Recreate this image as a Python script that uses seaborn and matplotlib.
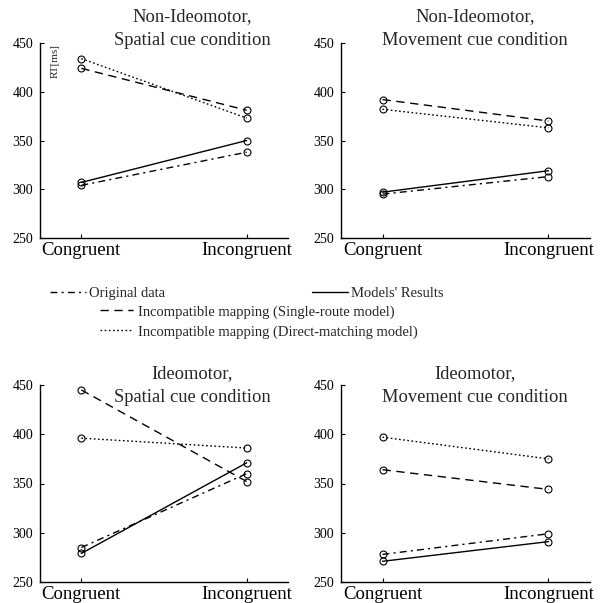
import numpy as np
import pandas as pd
import seaborn as sns
import matplotlib
matplotlib.use("Agg")
import matplotlib.pyplot as plt
from matplotlib.lines import Line2D

# ---------------- data ----------------
categories = ["Congruent", "Incongruent"]
panel_titles = [
    "Non-Ideomotor,\nSpatial cue condition",
    "Non-Ideomotor,\nMovement cue condition",
    "Ideomotor,\nSpatial cue condition",
    "Ideomotor,\nMovement cue condition",
]
original_data = [[304, 338], [295, 313], [285, 360], [278, 299]]
models_results = [[307, 350], [297, 319], [279, 371], [271, 291]]
single_route = [[424, 381], [392, 370], [445, 352], [364, 344]]
direct_matching = [[434, 373], [382, 363], [396, 386], [397, 375]]

series_names = [
    "Original data",
    "Models' Results",
    "Incompatible mapping (Single-route model)",
    "Incompatible mapping (Direct-matching model)",
]
series_values = [original_data, models_results, single_route, direct_matching]
y_ticks = [250, 300, 350, 400, 450]
y_label = "RT[ms]"

rows = []
for s_name, s_vals in zip(series_names, series_values):
    for p, vals in enumerate(s_vals):
        for c, v in zip(categories, vals):
            rows.append({"panel": p, "condition": c, "series": s_name, "RT": v})
df = pd.DataFrame(rows)

# ---------------- style ----------------
sns.set_style("ticks")
plt.rcParams["font.family"] = ["Liberation Serif", "DejaVu Serif"]

dash_map = {
    series_names[0]: (5, 3, 1.5, 3),
    series_names[1]: "",
    series_names[2]: (6, 4),
    series_names[3]: (1.2, 1.8),
}
marker_map = {n: "o" for n in series_names}

W, H = 606, 603
fig = plt.figure(figsize=(W / 100, H / 100), dpi=100)

def px_axes(l, r, t, b):
    return [l / W, 1 - b / H, (r - l) / W, (b - t) / H]

axes_rects = [
    px_axes(40, 288, 43, 238),
    px_axes(341, 590, 43, 238),
    px_axes(40, 288, 385, 582),
    px_axes(341, 590, 385, 582),
]
title_x = [0.613, 0.538, 0.613, 0.538]
title_y = [0.99, 0.99, 0.914, 0.914]

for p in range(4):
    ax = fig.add_axes(axes_rects[p])
    sub = df[df["panel"] == p]
    sns.lineplot(
        data=sub, x="condition", y="RT", style="series",
        style_order=series_names, dashes=dash_map, markers=marker_map,
        color="black", linewidth=1.0, markersize=5,
        markerfacecolor="none", markeredgecolor="black", markeredgewidth=0.8,
        legend=False, ax=ax,
    )
    ax.set_xlim(-0.25, 1.25)
    ax.set_ylim(250, 450)
    ax.set_yticks(y_ticks)
    ax.set_xlabel("")
    ax.set_ylabel("")
    for sp in ["top", "right"]:
        ax.spines[sp].set_visible(False)
    for sp in ["left", "bottom"]:
        ax.spines[sp].set_color("black")
        ax.spines[sp].set_linewidth(1.0)
    ax.tick_params(axis="x", direction="in", length=3, width=0.8,
                   labelsize=13.5, pad=3, colors="black")
    ax.tick_params(axis="y", direction="in", length=3, width=0.8,
                   labelsize=10, pad=5, colors="black")
    ax.text(title_x[p], title_y[p], panel_titles[p], transform=ax.transAxes,
            ha="center", va="baseline", fontsize=13.3, linespacing=1.5)
    if p == 0:
        ax.text(0.062, 0.995, y_label, transform=ax.transAxes, rotation=90,
                ha="center", va="top", fontsize=8)

# ---------------- legend ----------------
def proxy(name):
    d = dash_map[name]
    if d == "":
        return Line2D([], [], color="black", linewidth=1.0, linestyle="-")
    return Line2D([], [], color="black", linewidth=1.0, linestyle=(0, d))

leg1 = fig.legend(
    [proxy(series_names[0]), proxy(series_names[1])],
    series_names[:2], ncol=2, frameon=False,
    loc="center left", bbox_to_anchor=(50 / W, 1 - 293 / H),
    borderpad=0, borderaxespad=0, handlelength=2.45, handletextpad=0.2,
    columnspacing=10.1, fontsize=10.5,
)
leg2 = fig.legend(
    [proxy(series_names[2]), proxy(series_names[3])],
    series_names[2:], ncol=1, frameon=False,
    loc="center left", bbox_to_anchor=(100 / W, 1 - 322 / H),
    borderpad=0, borderaxespad=0, handlelength=2.25, handletextpad=0.35,
    labelspacing=0.45, fontsize=10.5,
)

fig.savefig("out.png", dpi=100)
